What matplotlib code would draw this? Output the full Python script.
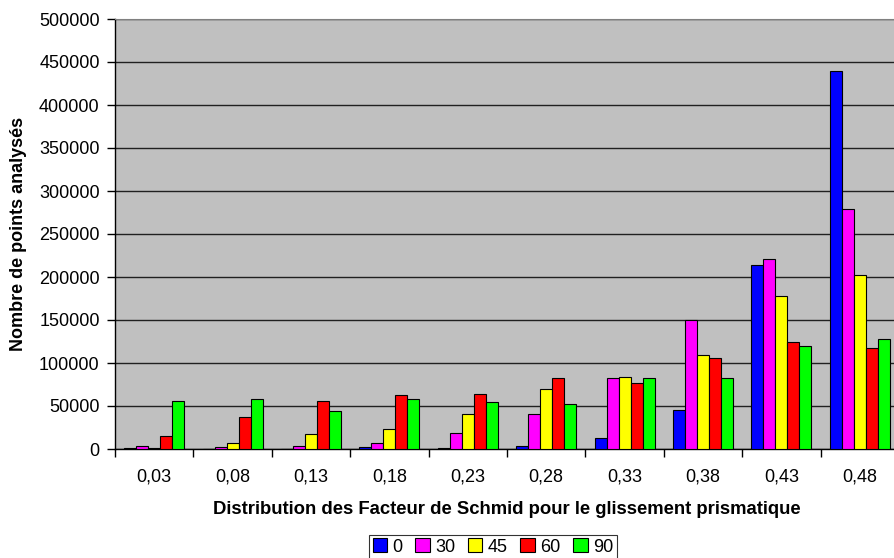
import numpy as np
import matplotlib
matplotlib.use("Agg")
import matplotlib.pyplot as plt
from matplotlib.ticker import FixedLocator, NullFormatter

plt.rcParams["font.family"] = ["Liberation Sans", "DejaVu Sans"]

categories = ["0,03", "0,08", "0,13", "0,18", "0,23", "0,28", "0,33", "0,38", "0,43", "0,48"]
series_names = ["0", "30", "45", "60", "90"]
series_colors = ["#0000FF", "#FF00FF", "#FFFF00", "#FF0000", "#00FF00"]

angle_0 = [1500, 0, 0, 2300, 1200, 3500, 12300, 45400, 214000, 439000]
angle_30 = [4000, 2000, 3500, 6600, 18200, 40300, 83000, 150000, 221000, 279000]
angle_45 = [1500, 6600, 17000, 23600, 40300, 70000, 84200, 109600, 177500, 202000]
angle_60 = [14700, 37200, 56000, 62800, 64000, 82600, 76500, 105400, 124200, 117500]
angle_90 = [56000, 58000, 44000, 58000, 54700, 52700, 83000, 82000, 119800, 128000]
series_values = [angle_0, angle_30, angle_45, angle_60, angle_90]

fig = plt.figure(figsize=(8.94, 5.58), dpi=100)
ax = fig.add_axes([115 / 894, 109 / 558, 784 / 894, 430 / 558])
ax.set_facecolor("#C0C0C0")

x = np.arange(len(categories))
group = 0.765
w = group / len(series_names)
for i, (name, vals, col) in enumerate(zip(series_names, series_values, series_colors)):
    ax.bar(x - group / 2 + w * (i + 0.5), vals, width=w, color=col,
           edgecolor="black", linewidth=0.8, label=name, zorder=3)

ax.set_xlim(-0.5, len(categories) - 0.5)
ax.set_ylim(0, 500000)
ax.set_yticks(np.arange(0, 500001, 50000))
ax.yaxis.grid(True, color="#202020", linewidth=1.0, zorder=0)
ax.set_axisbelow(True)

ax.set_xticks(x)
ax.set_xticklabels(categories, fontsize=13)
ax.xaxis.set_minor_locator(FixedLocator(np.arange(-0.5, len(categories), 1)))
ax.xaxis.set_minor_formatter(NullFormatter())
ax.tick_params(axis="x", which="major", length=0, pad=14)
ax.tick_params(axis="x", which="minor", length=6, width=1, direction="out")
ax.tick_params(axis="y", length=6, width=1, direction="out", pad=5, labelsize=13)

for side in ["top", "right"]:
    ax.spines[side].set_color("#808080")
for side in ["left", "bottom"]:
    ax.spines[side].set_color("black")
    ax.spines[side].set_linewidth(1.0)

ax.set_xlabel("Distribution des Facteur de Schmid pour le glissement prismatique",
              fontsize=13.3, fontweight="bold", labelpad=11)
ax.set_ylabel("Nombre de points analysés", fontsize=13, fontweight="bold", labelpad=9)

leg = fig.legend(loc="center", bbox_to_anchor=(493 / 894, 11 / 558), ncol=5,
                 fontsize=13, frameon=True, fancybox=False, edgecolor="black",
                 handlelength=0.8, handleheight=0.8, handletextpad=0.3,
                 columnspacing=0.7, borderpad=0.2)
leg.get_frame().set_linewidth(0.8)

fig.savefig("out.png", dpi=100)
